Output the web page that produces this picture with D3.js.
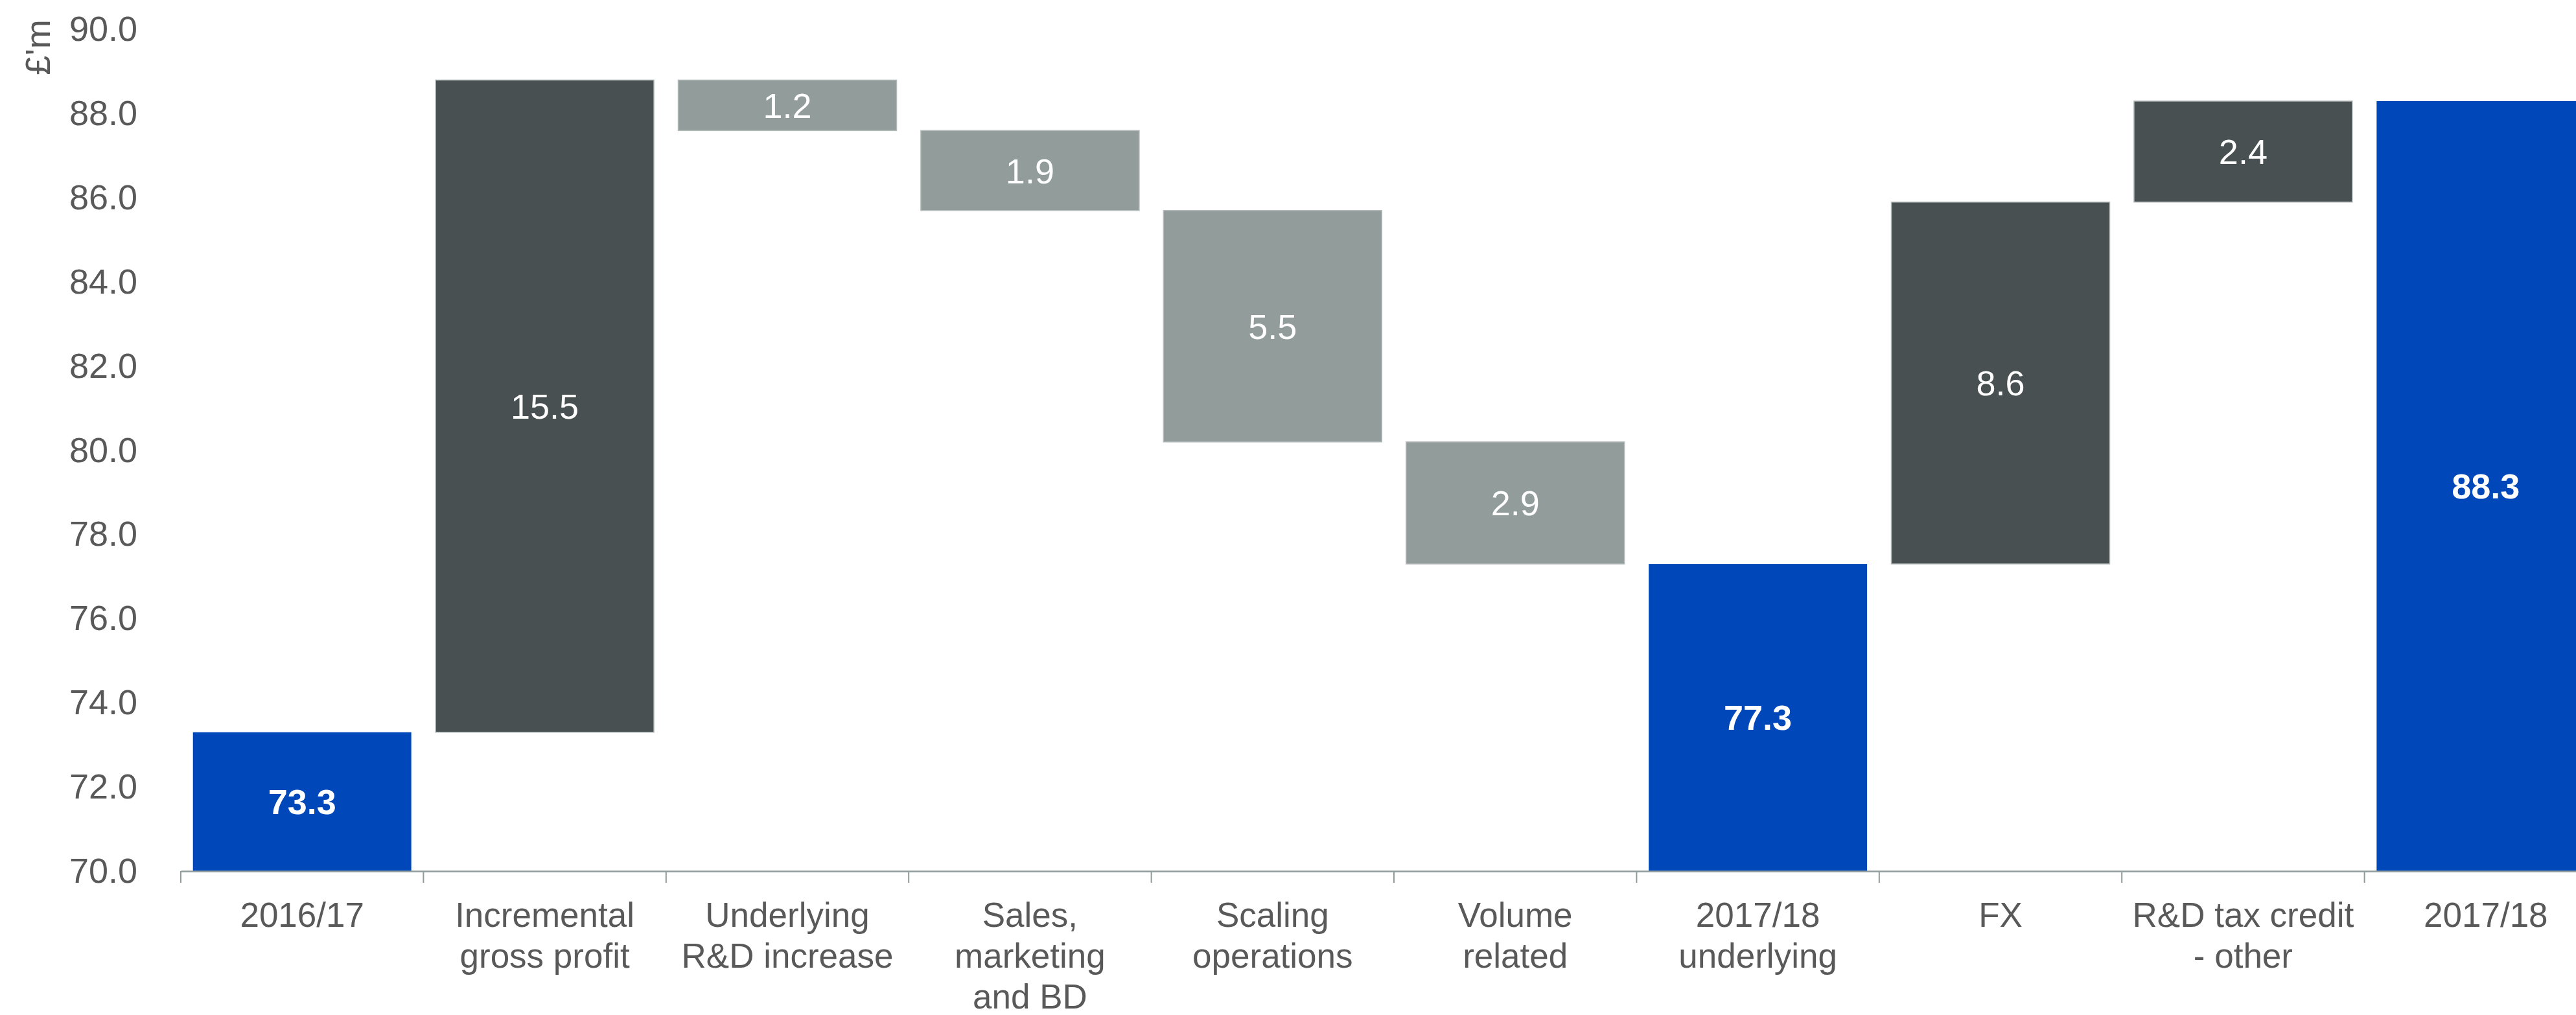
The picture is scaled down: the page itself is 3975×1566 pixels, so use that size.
<!DOCTYPE html>
<html>
<head>
<meta charset="utf-8">
<script src="https://cdn.jsdelivr.net/npm/d3@7"></script>
<style>
  html, body { margin: 0; padding: 0; background: #ffffff; }
  svg { display: block; }
  text { font-family: "Liberation Sans", Arial, sans-serif; }
</style>
</head>
<body>
<svg id="chart" width="3975" height="1566"></svg>
<script>
// Operating cost bridge, 2016/17 to 2017/18 (£'m)
const categories = [
  "2016/17", "Incremental gross profit", "Underlying R&D increase",
  "Sales, marketing and BD", "Scaling operations", "Volume related",
  "2017/18 underlying", "FX", "R&D tax credit - other", "2017/18"
];
const categoryLines = [
  ["2016/17"], ["Incremental", "gross profit"], ["Underlying", "R&D increase"],
  ["Sales,", "marketing", "and BD"], ["Scaling", "operations"], ["Volume", "related"],
  ["2017/18", "underlying"], ["FX"], ["R&D tax credit", "- other"], ["2017/18"]
];
const values = [73.3, 15.5, -1.2, -1.9, -5.5, -2.9, 77.3, 8.6, 2.4, 88.3];
const kinds  = ["total", "up", "down", "down", "down", "down", "total", "up", "up", "total"];
const yTicks = [70, 72, 74, 76, 78, 80, 82, 84, 86, 88, 90];
const yDomain = [70, 90];
const yUnit = "£'m";

const colors = { total: "#0047ba", up: "#495052", down: "#919c9b" };

const svg = d3.select("#chart");
const plotLeft = 279, step = 374.4;
const plotTop = 45.6, plotBottom = 1344;

const x = d3.scaleBand()
  .domain(categories)
  .range([plotLeft, plotLeft + step * categories.length])
  .paddingInner(0.1)
  .paddingOuter(0.05);

const xEdge = d3.scaleBand()
  .domain(categories)
  .range([plotLeft, plotLeft + step * categories.length])
  .padding(0);

const y = d3.scaleLinear().domain(yDomain).range([plotBottom, plotTop]);

// waterfall segments
let running = 0;
const segs = categories.map((c, i) => {
  const v = values[i];
  let y0, y1;
  if (kinds[i] === "total") {
    y0 = yDomain[0]; y1 = v; running = v;
  } else {
    y0 = running; y1 = running + v; running = y1;
  }
  return { cat: c, kind: kinds[i], lo: Math.min(y0, y1), hi: Math.max(y0, y1), value: v };
});

// bars
svg.append("g").selectAll("rect")
  .data(segs).join("rect")
  .attr("x", d => x(d.cat))
  .attr("width", x.bandwidth())
  .attr("y", d => y(d.hi))
  .attr("height", d => y(d.lo) - y(d.hi))
  .attr("fill", d => colors[d.kind])
  .attr("stroke", d => d.kind === "total" ? "none" : "#b4bbba")
  .attr("stroke-width", 1.5);

// value labels
svg.append("g").selectAll("text")
  .data(segs).join("text")
  .attr("x", d => x(d.cat) + x.bandwidth() / 2)
  .attr("y", d => (y(d.lo) + y(d.hi)) / 2)
  .attr("dy", "0.36em")
  .attr("text-anchor", "middle")
  .attr("fill", "#ffffff")
  .attr("font-size", 54)
  .attr("font-weight", d => d.kind === "total" ? "bold" : "normal")
  .text(d => Math.abs(d.value).toFixed(1));

// x axis
const xAxis = svg.append("g")
  .attr("transform", `translate(0,${plotBottom})`)
  .call(d3.axisBottom(xEdge).tickSize(0).tickFormat(""));
xAxis.select(".domain").attr("stroke", "#8f9c9b").attr("stroke-width", 2.5);
xAxis.selectAll(".tick").remove();

xAxis.selectAll("line.edge")
  .data(categories).join("line")
  .attr("class", "edge")
  .attr("x1", d => xEdge(d)).attr("x2", d => xEdge(d))
  .attr("y1", 0).attr("y2", 18)
  .attr("stroke", "#8f9c9b").attr("stroke-width", 2);

const lbl = xAxis.selectAll("text.cat")
  .data(categories).join("text")
  .attr("class", "cat")
  .attr("text-anchor", "middle")
  .attr("fill", "#595959")
  .attr("font-size", 53)
  .attr("transform", d => `translate(${xEdge(d) + xEdge.bandwidth() / 2},86)`);
lbl.selectAll("tspan")
  .data((d, i) => categoryLines[i]).join("tspan")
  .attr("x", 0)
  .attr("y", (d, i) => i * 63)
  .text(d => d);

// y axis labels
const yAxis = svg.append("g")
  .attr("transform", `translate(${plotLeft},0)`)
  .call(d3.axisLeft(y).tickValues(yTicks).tickSize(0).tickPadding(67).tickFormat(d3.format(".1f")));
yAxis.select(".domain").remove();
yAxis.selectAll("text")
  .attr("fill", "#595959")
  .attr("font-size", 54)
  .attr("font-family", "'Liberation Sans', Arial, sans-serif");

svg.append("text")
  .attr("transform", "translate(58,73) rotate(-90)")
  .attr("text-anchor", "middle")
  .attr("dy", "0.36em")
  .attr("fill", "#595959")
  .attr("font-size", 54)
  .text(yUnit);
</script>
</body>
</html>
